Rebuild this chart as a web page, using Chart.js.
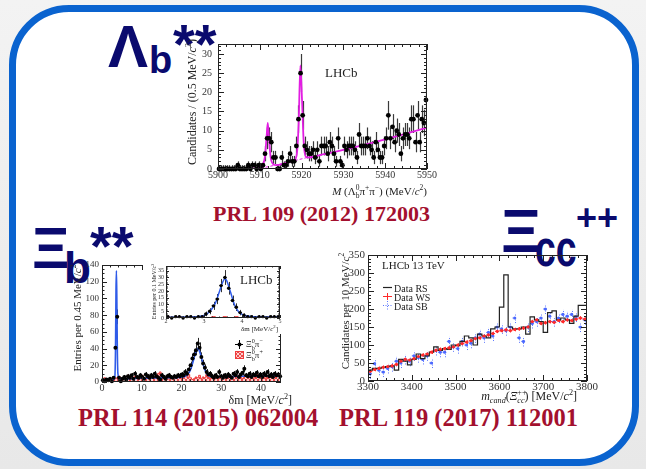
<!DOCTYPE html>
<html>
<head>
<meta charset="utf-8">
<script src="https://cdn.jsdelivr.net/npm/chart.js@4.4.1/dist/chart.umd.min.js"></script>
<style>
html, body { margin: 0; padding: 0; }
body { width: 646px; height: 469px; position: relative; overflow: hidden; background: linear-gradient(#f3f3f3, #e8e8e8); }
#box { position: absolute; left: 9px; top: 5px; width: 616px; height: 447px; border: 7px solid #0a63cf; border-radius: 60px; background: #fff; }
.g { position: absolute; color: #0a0a6e; font-family: "Liberation Sans", Arial, sans-serif; font-weight: bold; line-height: 1; white-space: nowrap; }
.cap { position: absolute; color: #a3102e; font-family: "Liberation Serif", "Times New Roman", serif; font-weight: bold; line-height: 1; white-space: nowrap; }
canvas { position: absolute; }
</style>
</head>
<body>
<div id="box"></div>

<div class="g" style="left:108px;top:17px;font-size:60px">Λ</div>
<div class="g" style="left:149px;top:41px;font-size:38px">b</div>
<div class="g" style="left:173px;top:16px;font-size:56px">**</div>

<div class="g" style="left:32px;top:219px;font-size:58px">Ξ</div>
<div class="g" style="left:64px;top:246px;font-size:44px">b</div>
<div class="g" style="left:90px;top:218px;font-size:56px">**</div>

<div class="g" style="left:501px;top:200px;font-size:62px">Ξ</div>
<div class="g" style="left:535px;top:222px;font-size:52px;transform:scaleX(0.72);transform-origin:left top">cc</div>
<div class="g" style="left:576px;top:200px;font-size:36px">++</div>

<div class="cap" style="left:213px;top:203px;font-size:22px">PRL 109 (2012) 172003</div>
<div class="cap" style="left:78px;top:406px;font-size:24.5px">PRL 114 (2015) 062004</div>
<div class="cap" style="left:339px;top:406px;font-size:24.5px">PRL 119 (2017) 112001</div>

<canvas id="c1" width="270" height="166" style="left:170px;top:36px"></canvas>
<canvas id="c2" width="236" height="150" style="left:60px;top:258px"></canvas>
<canvas id="c2i" width="141" height="72" style="left:143px;top:262px"></canvas>
<canvas id="c3" width="278" height="158" style="left:323px;top:248px"></canvas>

<script>
// ---------- Lambda_b** : M(Lb pi pi), 0.5 MeV bins from 5900 ----------
const lbLo = 5900, lbW = 0.5;
const lbCounts = [0,0,0,0,0,0,0,0,0,1, 0,0,0,0,1,0,1,1,0,1,
                  0,1,4,8,8,7,3,3,0,0, 3,1,1,2,4,2,2,6,13,25,
                  14,6,5,4,4,5,3,5,2,6, 6,6,4,7,6,4,2,8,2,1,
                  6,5,6,6,6,5,3,9,6,6, 6,8,6,5,3,7,5,3,3,6,
                  8,14,8,11,7,10,9,4,8,9, 9,8,13,13,7,14,7,13,12,18];
const lbFit = [[5900,0],[5905,0],[5908,0.1],[5909.5,0.3],[5910.5,0.8],[5911.2,3],[5911.6,8],[5911.9,12],
               [5912.2,8],[5912.6,3],[5913.2,1.3],[5914,1],[5915,1.2],[5916,1.5],[5917,1.8],[5918,2.1],
               [5918.8,3.5],[5919.3,12],[5919.7,27],[5920.1,18],[5920.5,7],[5921,3.2],[5922,3],
               [5925,3.8],[5930,5],[5935,6.3],[5940,7.7],[5945,9.2],[5950,10.8]];
const lbBkg = [[5909,0],[5912,0.6],[5915,1.3],[5918,2.1],[5921,2.9],[5925,3.8]];
const lbXTicks = [5900, 5910, 5920, 5930, 5940, 5950];
const lbYTicks = [0, 5, 10, 15, 20, 25, 30];

// ---------- Xi_b** : delta m, 0.45 MeV bins from 0 ----------
const xbLo = 0, xbW = 0.45;
const xbCounts = [2,1,3,2,4,1,5,41,78,5, 1,4,6,3,7,5,8,4,10,6,
                  5,8,6,4,9,7,5,8,6,10, 7,5,3,8,6,4,7,8,6,5,
                  7,6,8,7,9,8,12,10,15,20, 28,33,38,46,41,30,22,17,12,9,
                  10,7,5,8,6,12,7,5,8,6, 9,7,5,10,8,12,6,9,11,16,
                  8,7,10,6,9,8,11,7,9,6, 10,8,12,7,9,6,10,8,9,7];
const xbWrong = [3,2,5,4,2,1,3,6,4,5, 7,3,5,6,4,8,5,6,4,7,
                 5,3,6,8,5,4,7,6,9,5, 6,8,10,12,5,4,6,3,7,5,
                 4,6,5,8,6,4,5,7,6,9, 5,3,4,6,5,8,4,6,5,9,
                 6,4,7,5,8,6,5,4,7,9, 5,6,8,4,6,7,5,8,6,4,
                 7,9,5,6,8,4,6,10,7,5, 6,8,4,7,6,9,5,6,8,7];
const xbFit = [[0,0.5],[2.5,2],[3.2,5],[3.4,40],[3.52,110],[3.62,133],[3.72,105],[3.85,40],[4.0,10],
               [4.4,4],[6,4],[10,4.5],[15,5],[20,5.8],[21,7],[22,12],[22.5,18],[23,26],[23.5,35],
               [24,40],[24.5,37],[25,29],[25.5,20],[26,13],[26.5,9],[27,7],[28,6.2],[30,6.3],
               [35,6.8],[40,7.2],[45,7.5]];
const xbXTicks = [0, 10, 20, 30, 40];
const xbYTicks = [0, 20, 40, 60, 80, 100, 120, 140];

// inset: 0.1 MeV bins from 2
const inLo = 2, inW = 0.1;
const inCounts = [1,0,1,1,0,1,1,0,1,1, 3,5,9,14,24,30,22,13,8,4, 2,1,1,0,1,1,0,1,1,1];
const inWrong  = [0,1,0,0,1,0,0,1,0,0, 1,0,0,1,0,0,1,0,0,1, 0,0,1,0,0,1,0,0,1,0];
const inFit = [[2,0.6],[2.8,0.9],[3.0,1.8],[3.1,3.5],[3.2,6.5],[3.3,11],[3.4,19],[3.5,27],[3.55,29],
               [3.6,27.5],[3.7,19],[3.8,10],[3.9,5],[4.0,2.7],[4.1,1.6],[4.3,1],[5,0.8]];
const inXTicks = [2, 3, 4, 5];
const inYTicks = [0, 5, 10, 15, 20, 25, 30, 35];

// ---------- Xi_cc++ : m_cand, 10 MeV bins from 3300 ----------
const ccLo = 3300, ccW = 10;
const ccRS = [22,30,35,35,38,40,42,30,60,55, 45,60,75,62,70,80,95,85,90,88,
              100,98,110,125,120,100,130,125,120,145, 150,205,295,150,145,145,150,130,178,170,
              165,135,190,195,170,175,170,160,180,210];
const ccWS = [27,32,35,38,40,42,46,55,60,58, 62,68,72,75,80,85,88,90,92,95,
              100,104,108,112,118,120,125,128,132,138, 140,142,140,143,145,147,150,165,170,160,
              162,165,163,168,165,170,168,172,175,172];
const ccSB = [20,48,30,25,35,40,55,50,60,55, 70,65,60,70,50,85,80,80,110,95,
              90,110,100,105,120,130,120,135,125,150, 145,140,150,175,120,110,150,160,165,175,
              200,180,165,175,185,180,185,178,150,170];
const ccXTicks = [3300, 3400, 3500, 3600, 3700, 3800];
const ccYTicks = [0, 50, 100, 150, 200, 250, 300, 350];

const SERIF = '"Liberation Serif", "Times New Roman", serif';

// helpers to turn the arrays into points for the library
const pts = (lo, w, arr) => arr.map((v, i) => ({x: lo + w * (i + 0.5), y: v}));
const steps = (lo, w, arr) => arr.map((v, i) => ({x: lo + w * i, y: v})).concat([{x: lo + w * arr.length, y: arr[arr.length - 1]}]);
const curve = arr => arr.map(([x, y]) => ({x, y}));

// text with sub/superscripts
function rich(ctx, parts, x, y, size, align) {
  const segs = [];
  let w = 0;
  for (const p of parts) {
    const t = typeof p === 'string' ? {t: p} : p;
    const fs = (t.sub || t.sup) ? size * 0.68 : size;
    const font = (t.it ? 'italic ' : '') + fs + 'px ' + SERIF;
    ctx.font = font;
    const sw = ctx.measureText(t.t).width;
    segs.push({text: t.t, font, x: w, dy: t.sub ? size * 0.28 : t.sup ? -size * 0.42 : 0});
    if (!t.keep) w += sw;
  }
  const x0 = align === 'right' ? x - w : align === 'center' ? x - w / 2 : x;
  ctx.textBaseline = 'alphabetic';
  ctx.textAlign = 'left';
  for (const s of segs) { ctx.font = s.font; ctx.fillText(s.text, x0 + s.x, y + s.dy); }
}
function yTitle(ctx, parts, cx, cy, size) {
  ctx.save();
  ctx.translate(cx, cy);
  ctx.rotate(-Math.PI / 2);
  rich(ctx, parts, 0, size * 0.35, size, 'center');
  ctx.restore();
}

// vertical (and short horizontal) error bars
const errorBars = {
  id: 'errorBars',
  beforeDatasetsDraw(chart) {
    const {ctx, chartArea: a, scales: {x, y}} = chart;
    ctx.save();
    ctx.beginPath();
    ctx.rect(a.left, a.top - 2, a.right - a.left, a.bottom - a.top + 2);
    ctx.clip();
    chart.data.datasets.forEach(ds => {
      if (!ds.err) return;
      ctx.strokeStyle = ds.err.color;
      ctx.lineWidth = ds.err.width || 1;
      ctx.setLineDash(ds.err.dash || []);
      ds.data.forEach(p => {
        const e = ds.err.size === 'sqrt' ? Math.max(Math.sqrt(p.y), 1) : ds.err.size;
        const px = Math.round(x.getPixelForValue(p.x)) + 0.5;
        ctx.beginPath();
        ctx.moveTo(px, y.getPixelForValue(Math.max(p.y - e, 0)));
        ctx.lineTo(px, y.getPixelForValue(p.y + e));
        if (ds.err.dx) {
          const py = y.getPixelForValue(p.y);
          ctx.moveTo(x.getPixelForValue(p.x - ds.err.dx), py);
          ctx.lineTo(x.getPixelForValue(p.x + ds.err.dx), py);
        }
        ctx.stroke();
      });
    });
    ctx.restore();
  }
};

// ROOT-like frame: box with inward ticks on all four sides
const rootFrame = {
  id: 'rootFrame',
  beforeDraw(chart, args, o) {
    if (!o.fill) return;
    chart.ctx.save();
    chart.ctx.fillStyle = o.fill;
    chart.ctx.fillRect(0, 0, chart.width, chart.height);
    chart.ctx.restore();
  },
  afterDraw(chart, args, o) {
    const {ctx, chartArea: a, scales: {x, y}} = chart;
    ctx.save();
    ctx.strokeStyle = '#222';
    ctx.lineWidth = 1;
    ctx.strokeRect(a.left + 0.5, a.top + 0.5, a.right - a.left - 1, a.bottom - a.top - 1);
    const marks = (scale, step) => {
      const out = [];
      const start = Math.ceil(scale.min / step - 1e-9);
      for (let i = start; i * step <= scale.max + 1e-9; i++) out.push(i * step);
      return out;
    };
    const drawX = (vals, len) => vals.forEach(v => {
      const px = Math.round(x.getPixelForValue(v)) + 0.5;
      ctx.moveTo(px, a.bottom); ctx.lineTo(px, a.bottom - len);
      ctx.moveTo(px, a.top); ctx.lineTo(px, a.top + len);
    });
    const drawY = (vals, len) => vals.forEach(v => {
      const py = Math.round(y.getPixelForValue(v)) + 0.5;
      ctx.moveTo(a.left, py); ctx.lineTo(a.left + len, py);
      ctx.moveTo(a.right, py); ctx.lineTo(a.right - len, py);
    });
    ctx.beginPath();
    drawX(marks(x, o.xMinor), o.minor);
    drawX(x.ticks.map(t => t.value), o.major);
    drawY(marks(y, o.yMinor), o.minor);
    drawY(y.ticks.map(t => t.value), o.major);
    ctx.stroke();
    ctx.restore();
  }
};

function axis(min, max, ticks, size, fontSize, pad, horizontal) {
  return {
    type: 'linear', min, max,
    grid: {display: false, drawTicks: false},
    border: {display: false},
    afterBuildTicks: s => { s.ticks = ticks.map(v => ({value: v})); },
    afterFit: s => {
      if (horizontal) { s.height = size; s.paddingLeft = 0; s.paddingRight = 0; }
      else { s.width = size; s.paddingTop = 0; s.paddingBottom = 0; }
    },
    ticks: {font: {family: SERIF, size: fontSize}, color: '#333', padding: pad,
            autoSkip: false, maxRotation: 0, callback: v => String(v)}
  };
}

function base(padTop, padRight, frame, xs, ys) {
  return {
    responsive: false, animation: false, devicePixelRatio: 1,
    layout: {padding: {top: padTop, right: padRight, bottom: 0, left: 0}},
    plugins: {legend: {display: false}, tooltip: {enabled: false}, rootFrame: frame},
    scales: {x: xs, y: ys}
  };
}

// ---------- chart 1: Lambda_b** ----------
new Chart(document.getElementById('c1'), {
  type: 'scatter',
  data: {datasets: [
    {data: pts(lbLo, lbW, lbCounts), pointRadius: 2.4, pointBackgroundColor: '#000', pointBorderWidth: 0,
     clip: false, err: {size: 'sqrt', color: '#3a3a3a', width: 1.2}},
    {data: curve(lbFit), showLine: true, borderColor: '#e21ee2', borderWidth: 1.8, pointRadius: 0,
     cubicInterpolationMode: 'monotone'},
    {data: curve(lbBkg), showLine: true, borderColor: '#e21ee2', borderWidth: 1, borderDash: [3, 2],
     pointRadius: 0}
  ]},
  options: base(8, 13, {major: 6, minor: 3, xMinor: 2, yMinor: 1},
    axis(5900, 5950, lbXTicks, 33, 10, 0, true),
    axis(0, 32.6, lbYTicks, 48, 10, 6, false)),
  plugins: [errorBars, rootFrame, {
    id: 'lbText',
    afterDraw(chart) {
      const ctx = chart.ctx;
      ctx.save();
      ctx.fillStyle = '#222';
      yTitle(ctx, ['Candidates / (0.5 MeV/', {t: 'c', it: true}, {t: '2', sup: true}, ')'], 22, 66, 12);
      rich(ctx, [{t: 'M', it: true}, ' (Λ', {t: '0', sup: true, keep: true}, {t: 'b', sub: true},
                 'π', {t: '+', sup: true}, 'π', {t: '−', sup: true}, ') (MeV/', {t: 'c', it: true},
                 {t: '2', sup: true}, ')'], 257, 159, 11, 'right');
      rich(ctx, ['LHCb'], 155, 41, 13, 'left');
      ctx.restore();
    }
  }]
});

// ---------- chart 2: Xi_b** ----------
const c2 = document.getElementById('c2');
function hatch(ctx) {
  const c = document.createElement('canvas');
  c.width = 4; c.height = 4;
  const g = c.getContext('2d');
  g.fillStyle = 'rgba(255,190,190,0.75)';
  g.fillRect(0, 0, 4, 4);
  g.strokeStyle = 'rgba(232,60,60,0.9)';
  g.lineWidth = 1;
  g.beginPath(); g.moveTo(0, 4); g.lineTo(4, 0); g.moveTo(0, 0); g.lineTo(4, 4); g.stroke();
  return ctx.createPattern(c, 'repeat');
}
const redHatch = hatch(c2.getContext('2d'));

new Chart(c2, {
  type: 'scatter',
  data: {datasets: [
    {data: pts(xbLo, xbW, xbCounts), pointRadius: 2, pointBackgroundColor: '#000', pointBorderWidth: 0,
     clip: false, err: {size: 'sqrt', color: '#222', dx: 0.225}},
    {data: curve(xbFit), showLine: true, borderColor: '#2f5be8', borderWidth: 1.6, pointRadius: 0,
     cubicInterpolationMode: 'monotone'},
    {data: steps(xbLo, xbW, xbWrong), showLine: true, stepped: 'after', borderColor: '#f03c3c',
     borderWidth: 1, pointRadius: 0, fill: 'origin', backgroundColor: redHatch}
  ]},
  options: base(7, 15, {major: 5, minor: 2.5, xMinor: 2, yMinor: 5},
    axis(0, 45, xbXTicks, 26, 10, 0, true),
    axis(0, 140, xbYTicks, 42, 9, 3, false)),
  plugins: [errorBars, rootFrame, {
    id: 'xbText',
    afterDraw(chart) {
      const ctx = chart.ctx;
      ctx.save();
      ctx.fillStyle = '#222';
      yTitle(ctx, ['Entries per 0.45 MeV/', {t: 'c', it: true}, {t: '2', sup: true}], 17, 60, 11);
      rich(ctx, ['δm [MeV/', {t: 'c', it: true}, {t: '2', sup: true}, ']'], 232, 146, 12, 'right');
      // legend
      ctx.strokeStyle = '#000';
      ctx.beginPath();
      ctx.moveTo(175, 86.5); ctx.lineTo(183, 86.5);
      ctx.moveTo(179.5, 82); ctx.lineTo(179.5, 91);
      ctx.stroke();
      ctx.fillStyle = '#000';
      ctx.beginPath(); ctx.arc(179.5, 86.5, 2, 0, Math.PI * 2); ctx.fill();
      ctx.fillStyle = redHatch;
      ctx.fillRect(175, 93, 9, 8);
      ctx.strokeStyle = '#f03c3c';
      ctx.strokeRect(175.5, 93.5, 8, 7);
      ctx.fillStyle = '#222';
      rich(ctx, ['Ξ', {t: '0', sup: true, keep: true}, {t: 'b', sub: true}, 'π', {t: '−', sup: true}], 186, 89, 9, 'left');
      rich(ctx, ['Ξ', {t: '0', sup: true, keep: true}, {t: 'b', sub: true}, 'π', {t: '+', sup: true}], 186, 100, 9, 'left');
      ctx.restore();
    }
  }]
});

// inset
new Chart(document.getElementById('c2i'), {
  type: 'scatter',
  data: {datasets: [
    {data: pts(inLo, inW, inCounts), pointRadius: 1.7, pointBackgroundColor: '#000', pointBorderWidth: 0,
     clip: false, err: {size: 'sqrt', color: '#333', dx: 0.05}},
    {data: curve(inFit), showLine: true, borderColor: '#2f5be8', borderWidth: 1.5, pointRadius: 0,
     cubicInterpolationMode: 'monotone'},
    {data: steps(inLo, inW, inWrong), showLine: true, stepped: 'after', borderColor: '#f03c3c',
     borderWidth: 1, pointRadius: 0, fill: 'origin', backgroundColor: 'rgba(255,170,170,0.5)'}
  ]},
  options: base(3, 3, {major: 3, minor: 1.5, xMinor: 0.2, yMinor: 1, fill: '#fff'},
    axis(2, 5, inXTicks, 16, 6, 0, true),
    axis(0, 38.5, inYTicks, 23, 6, 2, false)),
  plugins: [errorBars, rootFrame, {
    id: 'inText',
    afterDraw(chart) {
      const ctx = chart.ctx;
      ctx.save();
      ctx.fillStyle = '#222';
      yTitle(ctx, ['Entries per 0.1 MeV/', {t: 'c', it: true}, {t: '2', sup: true}], 11, 29.5, 6);
      rich(ctx, ['δm [MeV/', {t: 'c', it: true}, {t: '2', sup: true}, ']'], 135, 69, 7, 'right');
      rich(ctx, ['LHCb'], 97, 22, 13, 'left');
      ctx.restore();
    }
  }]
});

// ---------- chart 3: Xi_cc++ ----------
new Chart(document.getElementById('c3'), {
  type: 'scatter',
  data: {datasets: [
    {data: pts(ccLo, ccW, ccWS), pointRadius: 1.6, pointBackgroundColor: '#ff2a2a', pointBorderWidth: 0,
     err: {size: 5, color: '#ff2a2a', dx: 5}},
    {data: steps(ccLo, ccW, ccRS), showLine: true, stepped: 'after', borderColor: '#222',
     borderWidth: 1.2, pointRadius: 0},
    {data: pts(ccLo, ccW, ccSB), pointRadius: 1.6, pointBackgroundColor: '#4a68ff', pointBorderWidth: 0,
     err: {size: 14, color: '#5b76ff', dx: 5, dash: [1, 1.5]}}
  ]},
  options: base(7, 14, {major: 6, minor: 3, xMinor: 20, yMinor: 10},
    axis(3300, 3800, ccXTicks, 25, 11, 0, true),
    axis(0, 350, ccYTicks, 45, 11, 3, false)),
  plugins: [errorBars, rootFrame, {
    id: 'ccText',
    afterDraw(chart) {
      const ctx = chart.ctx;
      ctx.save();
      ctx.fillStyle = '#222';
      yTitle(ctx, ['Candidates per 10 MeV/', {t: 'c', it: true}, {t: '2', sup: true}], 22, 63, 11);
      rich(ctx, [{t: 'm', it: true}, {t: 'cand', sub: true, it: true}, '(', {t: 'Ξ', it: true},
                 {t: '++', sup: true, keep: true}, {t: 'cc', sub: true, it: true}, ') [MeV/',
                 {t: 'c', it: true}, {t: '2', sup: true}, ']'], 254, 152, 12, 'right');
      rich(ctx, ['LHCb 13 TeV'], 59, 21, 11, 'left');
      // legend
      ctx.lineWidth = 1.2;
      ctx.strokeStyle = '#222';
      ctx.beginPath(); ctx.moveTo(60, 39.5); ctx.lineTo(69, 39.5); ctx.stroke();
      ctx.lineWidth = 1;
      ctx.strokeStyle = '#ff2a2a';
      ctx.beginPath(); ctx.moveTo(60, 48.5); ctx.lineTo(69, 48.5); ctx.moveTo(64.5, 45); ctx.lineTo(64.5, 52); ctx.stroke();
      ctx.strokeStyle = '#5b76ff';
      ctx.setLineDash([1, 1.5]);
      ctx.beginPath(); ctx.moveTo(60, 57.5); ctx.lineTo(69, 57.5); ctx.moveTo(64.5, 53); ctx.lineTo(64.5, 62); ctx.stroke();
      ctx.setLineDash([]);
      ctx.fillStyle = '#222';
      rich(ctx, ['Data RS'], 71, 43.5, 10, 'left');
      rich(ctx, ['Data WS'], 71, 52.5, 10, 'left');
      rich(ctx, ['Data SB'], 71, 61.5, 10, 'left');
      ctx.restore();
    }
  }]
});
</script>
</body>
</html>
